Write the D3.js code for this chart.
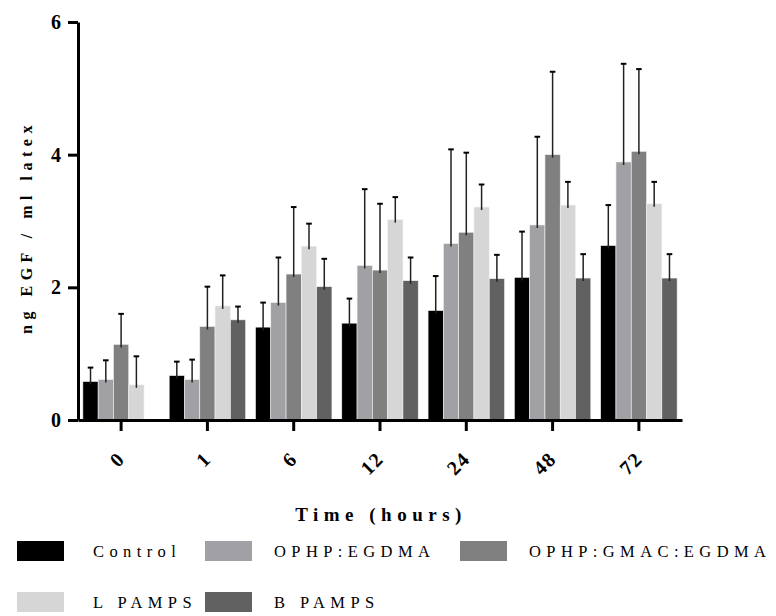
<!DOCTYPE html>
<html>
<head>
<meta charset="utf-8">
<script src="https://cdn.jsdelivr.net/npm/d3@7"></script>
<style>
  body { margin: 0; background: #fff; }
  svg { display: block; }
</style>
</head>
<body>
<div class="container"></div>
<script>
// categories and series
var times = ["0", "1", "6", "12", "24", "48", "72"];
var series = ["Control", "OPHP:EGDMA", "OPHP:GMAC:EGDMA", "L PAMPS", "B PAMPS"];
var colors = ["#000000", "#a1a1a5", "#808080", "#d6d6d6", "#616161"];

// mean values (ng EGF / ml latex), one array per series, null = no bar
var control   = [0.58, 0.67, 1.40, 1.46, 1.65, 2.15, 2.63];
var ophpEgdma = [0.61, 0.61, 1.77, 2.33, 2.66, 2.94, 3.89];
var ophpGmac  = [1.14, 1.41, 2.20, 2.26, 2.83, 4.00, 4.05];
var lPamps    = [0.53, 1.72, 2.62, 3.02, 3.21, 3.24, 3.26];
var bPamps    = [null, 1.51, 2.01, 2.10, 2.13, 2.14, 2.14];

// upper error (SD)
var controlErr   = [0.21, 0.21, 0.37, 0.37, 0.52, 0.69, 0.61];
var ophpEgdmaErr = [0.29, 0.30, 0.68, 1.15, 1.42, 1.33, 1.48];
var ophpGmacErr  = [0.46, 0.60, 1.01, 1.00, 1.20, 1.25, 1.24];
var lPampsErr    = [0.43, 0.46, 0.34, 0.34, 0.34, 0.35, 0.33];
var bPampsErr    = [null, 0.20, 0.42, 0.35, 0.36, 0.36, 0.36];

var yTicks = [0, 2, 4, 6];

var means = [control, ophpEgdma, ophpGmac, lPamps, bPamps];
var errs = [controlErr, ophpEgdmaErr, ophpGmacErr, lPampsErr, bPampsErr];

// flatten into rows for the bars
var rows = [];
times.forEach(function (t, i) {
  series.forEach(function (s, j) {
    if (means[j][i] != null) {
      rows.push({time: t, series: s, value: means[j][i], err: errs[j][i], color: colors[j]});
    }
  });
});

var w = 776;
var h = 616;
var serif = "'Liberation Serif', 'DejaVu Serif', serif";

var svg = d3.select(".container")
  .append("svg")
  .attr("width", w)
  .attr("height", h);

// scales
var x0 = d3.scaleBand()
  .domain(times)
  .range([78, 682])
  .paddingInner(0.114)
  .paddingOuter(0.0565);

var x1 = d3.scaleBand()
  .domain(series)
  .range([0, x0.bandwidth()]);

var y = d3.scaleLinear()
  .domain([0, 6])
  .range([420, 22]);

// bars
svg.append("g")
  .selectAll("rect")
  .data(rows)
  .enter()
  .append("rect")
  .attr("x", function (d) { return x0(d.time) + x1(d.series); })
  .attr("y", function (d) { return y(d.value); })
  .attr("width", x1.bandwidth())
  .attr("height", function (d) { return y(0) - y(d.value); })
  .attr("fill", function (d) { return d.color; })
  .attr("stroke", "#f2f2f2")
  .attr("stroke-width", 0.6);

// error bars (upper only)
var eb = svg.append("g")
  .selectAll("g")
  .data(rows)
  .enter()
  .append("g")
  .attr("transform", function (d) {
    return "translate(" + (x0(d.time) + x1(d.series) + x1.bandwidth() / 2) + ",0)";
  });
eb.append("line")
  .attr("x1", 0).attr("x2", 0)
  .attr("y1", function (d) { return y(d.value) + 3; })
  .attr("y2", function (d) { return y(d.value + d.err); })
  .attr("stroke", "#222")
  .attr("stroke-width", 1.5);
eb.append("line")
  .attr("x1", -2.8).attr("x2", 2.8)
  .attr("y1", function (d) { return y(d.value + d.err); })
  .attr("y2", function (d) { return y(d.value + d.err); })
  .attr("stroke", "#000")
  .attr("stroke-width", 2);

// x axis
var xAxis = d3.axisBottom(x0).tickSize(11).tickSizeOuter(0);
var gx = svg.append("g")
  .attr("class", "xaxis")
  .attr("transform", "translate(0," + y(0) + ")")
  .call(xAxis);
gx.select(".domain").attr("stroke", "#000").attr("stroke-width", 3);
gx.selectAll(".tick line").attr("stroke", "#000").attr("stroke-width", 3);
gx.selectAll(".tick text")
  .attr("x", 0).attr("y", 0).attr("dy", 0)
  .attr("transform", "translate(5,40) rotate(-45)")
  .attr("text-anchor", "end")
  .style("font-family", serif)
  .style("font-weight", "bold")
  .style("font-size", "20px")
  .style("letter-spacing", "1.5px")
  .attr("fill", "#000");

// y axis
var yAxis = d3.axisLeft(y).tickValues(yTicks).tickFormat(d3.format("d")).tickSize(10).tickSizeOuter(0);
var gy = svg.append("g")
  .attr("class", "yaxis")
  .attr("transform", "translate(78,0)")
  .call(yAxis);
gy.select(".domain").attr("stroke", "#000").attr("stroke-width", 3);
gy.selectAll(".tick line").attr("stroke", "#000").attr("stroke-width", 3);
gy.selectAll(".tick text")
  .attr("x", -17)
  .style("font-family", serif)
  .style("font-weight", "bold")
  .style("font-size", "20px")
  .attr("fill", "#000");

// axis titles
svg.append("text")
  .attr("transform", "translate(32,227) rotate(-90)")
  .attr("text-anchor", "middle")
  .style("font-family", serif)
  .style("font-weight", "bold")
  .style("font-size", "16px")
  .style("letter-spacing", "5.5px")
  .text("ng EGF / ml latex");

svg.append("text")
  .attr("x", 381)
  .attr("y", 521)
  .attr("text-anchor", "middle")
  .style("font-family", serif)
  .style("font-weight", "bold")
  .style("font-size", "19px")
  .style("letter-spacing", "5.5px")
  .text("Time (hours)");

// legend, two rows
var legendPos = [[17, 541], [205, 541], [460, 541], [17, 592], [205, 592]];
var lg = svg.append("g")
  .selectAll("g")
  .data(series)
  .enter()
  .append("g")
  .attr("transform", function (d, i) { return "translate(" + legendPos[i][0] + "," + legendPos[i][1] + ")"; });
lg.append("rect")
  .attr("width", 47)
  .attr("height", 20)
  .attr("fill", function (d, i) { return colors[i]; });
lg.append("text")
  .attr("x", function (d, i) { return legendPos[i][0] == 17 ? 76 : 69; })
  .attr("y", 16)
  .style("font-family", serif)
  .style("font-size", "16.5px")
  .style("letter-spacing", "5.4px")
  .text(function (d) { return d; });
</script>
</body>
</html>
